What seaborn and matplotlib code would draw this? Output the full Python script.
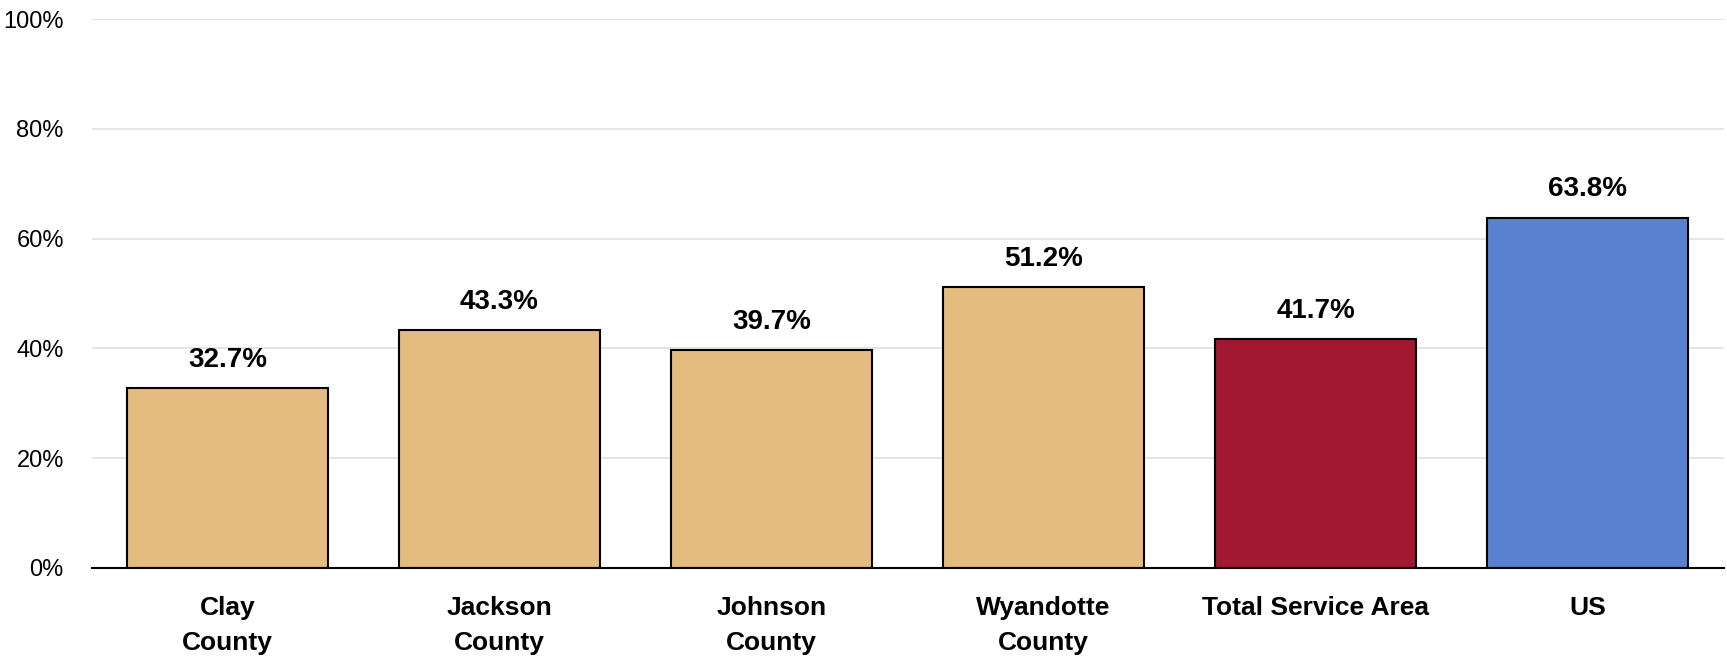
import pandas as pd
import matplotlib.pyplot as plt
import seaborn as sns
from matplotlib.ticker import PercentFormatter

# chart data
areas = ["Clay\nCounty", "Jackson\nCounty", "Johnson\nCounty", "Wyandotte\nCounty", "Total Service Area", "US"]
values = [32.7, 43.3, 39.7, 51.2, 41.7, 63.8]
colors = ["#E5BC7F", "#E5BC7F", "#E5BC7F", "#E5BC7F", "#A21830", "#5882CF"]

df = pd.DataFrame({"area": areas, "value": values})

sns.set_theme(style="white")
plt.rcParams["font.family"] = ["Liberation Sans Narrow", "Liberation Sans", "DejaVu Sans"]

fig = plt.figure(figsize=(17.27, 6.61), dpi=100)
ax = fig.add_axes([0.053, 0.141, 0.945, 0.830])

sns.barplot(ax=ax, data=df, x="area", y="value", hue="area", palette=colors,
            legend=False, width=0.74, edgecolor="black", linewidth=1.5, saturation=1)

ax.set_ylim(0, 100)
ax.set_xlim(-0.5, 5.5)
ax.set_yticks([0, 20, 40, 60, 80, 100])
ax.yaxis.set_major_formatter(PercentFormatter(decimals=0))
ax.grid(axis="y", color="#E3E3E3", linewidth=1.3)
ax.set_axisbelow(True)

for s in ["top", "right", "left"]:
    ax.spines[s].set_visible(False)
ax.spines["bottom"].set_color("black")
ax.spines["bottom"].set_linewidth(1.5)
ax.spines["bottom"].set_zorder(5)

ax.set(xlabel="", ylabel="")
ax.tick_params(axis="y", labelsize=17, length=0, pad=20, labelcolor="black")
ax.tick_params(axis="x", labelsize=19, length=0, pad=20, labelcolor="black")
for lab in ax.get_xticklabels():
    lab.set_fontweight("bold")
    lab.set_linespacing(1.6)

for c in ax.containers:
    ax.bar_label(c, fmt="%.1f%%", padding=11, fontsize=20, fontweight="bold", color="black")

fig.savefig("out.png", dpi=100)
